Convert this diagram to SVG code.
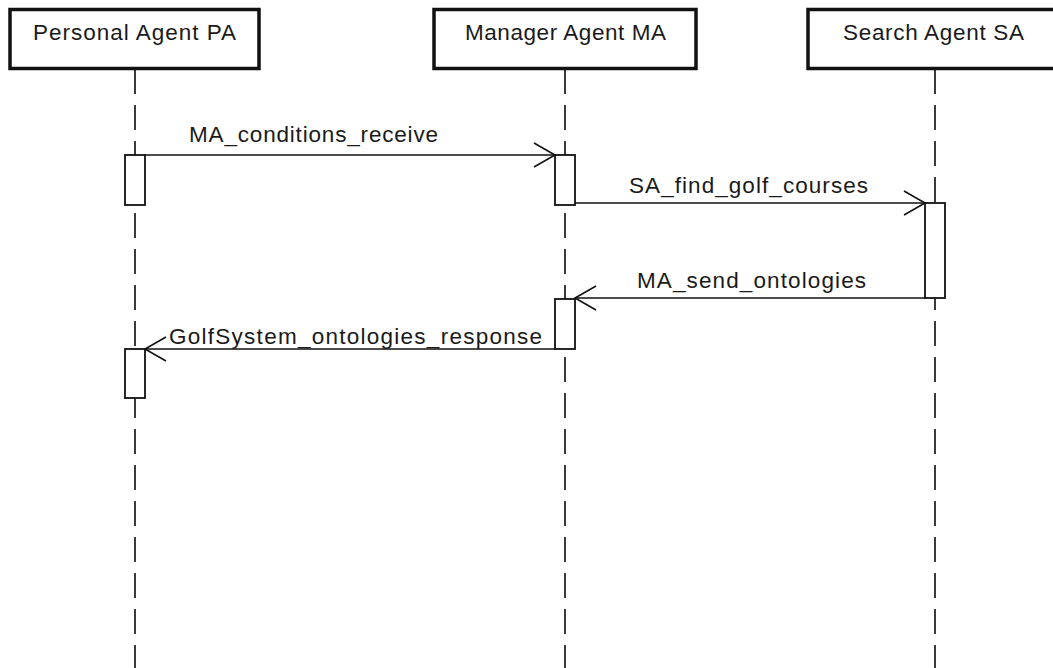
<svg xmlns="http://www.w3.org/2000/svg" width="1053" height="668" viewBox="0 0 1053 668">
  <style>
    .head { fill: #ffffff; stroke: #111111; stroke-width: 3.5; }
    .life { stroke: #3a3a3a; stroke-width: 2; stroke-dasharray: 25 11; fill: none; }
    .act { fill: #ffffff; stroke: #111111; stroke-width: 1.8; }
    .msg { stroke: #111111; stroke-width: 1.6; fill: none; marker-end: url(#open); }
    text { font-family: "Liberation Sans", Arial, sans-serif; font-size: 22.5px; fill: #1a1a1a; }
  </style>
  <defs>
    <marker id="open" markerUnits="userSpaceOnUse" orient="auto" viewBox="-24 -15 26 30" refX="0" refY="0" markerWidth="26" markerHeight="30" overflow="visible">
      <path d="M-21,-12 L0,0 L-21,12" fill="none" stroke="#111111" stroke-width="1.6"/>
    </marker>
  </defs>
  <rect width="1053" height="668" fill="#ffffff"/>

  <!-- lifelines -->
  <g id="lifelines">
    <line class="life" x1="135" y1="69" x2="135" y2="668"/>
    <line class="life" x1="565" y1="69" x2="565" y2="668"/>
    <line class="life" x1="935" y1="69" x2="935" y2="668"/>
  </g>

  <!-- participants -->
  <g id="personal-agent">
    <rect class="head" x="10" y="9.5" width="249" height="59"/>
    <text x="33" y="40" textLength="203" lengthAdjust="spacing">Personal Agent PA</text>
  </g>
  <g id="manager-agent">
    <rect class="head" x="434" y="9.5" width="262" height="59"/>
    <text x="465" y="40" textLength="201" lengthAdjust="spacing">Manager Agent MA</text>
  </g>
  <g id="search-agent">
    <rect class="head" x="808" y="9.5" width="254" height="59"/>
    <text x="843" y="40" textLength="181" lengthAdjust="spacing">Search Agent SA</text>
  </g>

  <!-- activations -->
  <g id="activations">
    <rect id="pa-act-1" class="act" x="125" y="155" width="20" height="50"/>
    <rect id="ma-act-1" class="act" x="555" y="155" width="20" height="50"/>
    <rect id="sa-act-1" class="act" x="925" y="203" width="20" height="95"/>
    <rect id="ma-act-2" class="act" x="555" y="299" width="20" height="50"/>
    <rect id="pa-act-2" class="act" x="125" y="349" width="20" height="49"/>
  </g>

  <!-- messages -->
  <g id="connectors">
    <line class="msg" x1="145" y1="155" x2="555" y2="155"/>
    <line class="msg" x1="575" y1="203" x2="925" y2="203"/>
    <line class="msg" x1="925" y1="298" x2="575" y2="298"/>
    <line class="msg" x1="555" y1="349" x2="145" y2="349"/>
  </g>
  <g id="message-labels">
    <text x="189" y="142" textLength="249" lengthAdjust="spacing">MA_conditions_receive</text>
    <text x="629" y="193" textLength="239" lengthAdjust="spacing">SA_find_golf_courses</text>
    <text x="637" y="288" textLength="229" lengthAdjust="spacing">MA_send_ontologies</text>
    <text x="169" y="344" textLength="373" lengthAdjust="spacing">GolfSystem_ontologies_response</text>
  </g>
</svg>
